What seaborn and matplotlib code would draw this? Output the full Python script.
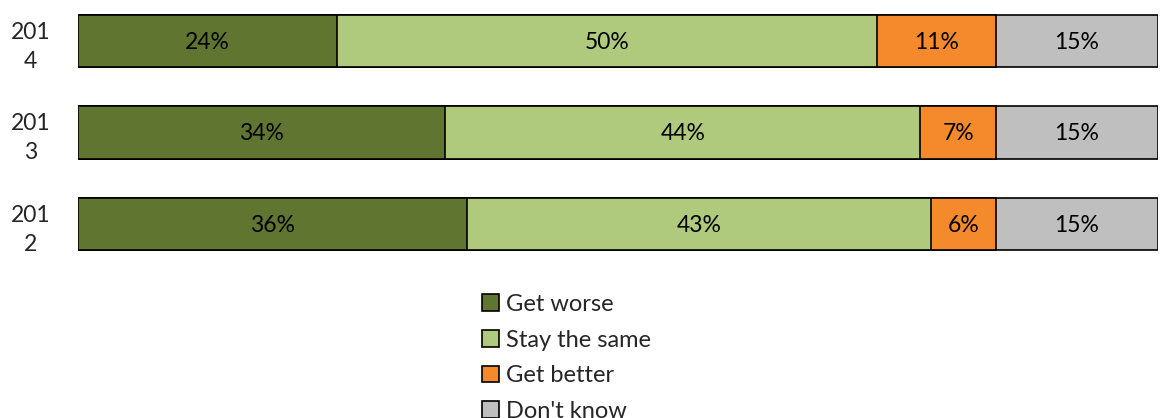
import matplotlib
matplotlib.use("Agg")
import matplotlib.pyplot as plt
import seaborn as sns
import pandas as pd
import numpy as np

years = ["2014", "2013", "2012"]
year_labels = ["201\n4", "201\n3", "201\n2"]
categories = ["Get worse", "Stay the same", "Get better", "Don't know"]
get_worse = [24, 34, 36]
stay_same = [50, 44, 43]
get_better = [11, 7, 6]
dont_know = [15, 15, 15]
colors = ["#5F7530", "#AFCA7D", "#F58A2C", "#BFBFBF"]

sns.set_theme(style="white")
plt.rcParams["font.family"] = ["Lato", "DejaVu Sans"]

values = np.array([get_worse, stay_same, get_better, dont_know], dtype=float)
cum = values.cumsum(axis=0)

fig = plt.figure(figsize=(11.6, 4.18), dpi=100)
W, H = 1160, 418
ax = fig.add_axes([78 / W, 1 - 270 / H, 1080 / W, 270 / H])

# stacked bars: draw cumulative totals from the outermost segment inward
for i in range(len(categories) - 1, -1, -1):
    df = pd.DataFrame({"year": years, "total": cum[i]})
    sns.barplot(data=df, x="total", y="year", order=years, orient="h",
                color=colors[i], edgecolor="black", linewidth=1.2,
                width=0.57, ax=ax, label=categories[i], saturation=1)

# value labels centred in each segment
for i in range(len(categories)):
    for j in range(len(years)):
        center = cum[i][j] - values[i][j] / 2
        ax.text(center, j + 0.015, f"{int(values[i][j])}%", ha="center", va="center",
                fontsize=16.5, color="black")

ax.set_xlim(0, 100)
ax.set_ylim(2.503, -0.448)
ax.set_xlabel("")
ax.set_ylabel("")
ax.set_xticks([])
ax.set_yticks(range(len(years)))
ax.set_yticklabels(year_labels, fontsize=16.5, ha="center", linespacing=1.45)
ax.tick_params(axis="y", length=0, pad=34)
for s in ax.spines.values():
    s.set_visible(False)

handles, labels = ax.get_legend_handles_labels()
order = [labels.index(c) for c in categories]
leg = fig.legend([handles[k] for k in order], [labels[k] for k in order],
                 loc="upper left", bbox_to_anchor=(482 / W, 1 - 294 / H),
                 frameon=False, fontsize=17, handlelength=0.72, handleheight=0.72,
                 handletextpad=0.3, labelspacing=0.62, borderpad=0, borderaxespad=0)
if ax.get_legend() is not None:
    ax.get_legend().remove()

fig.savefig("out.png", dpi=100)
